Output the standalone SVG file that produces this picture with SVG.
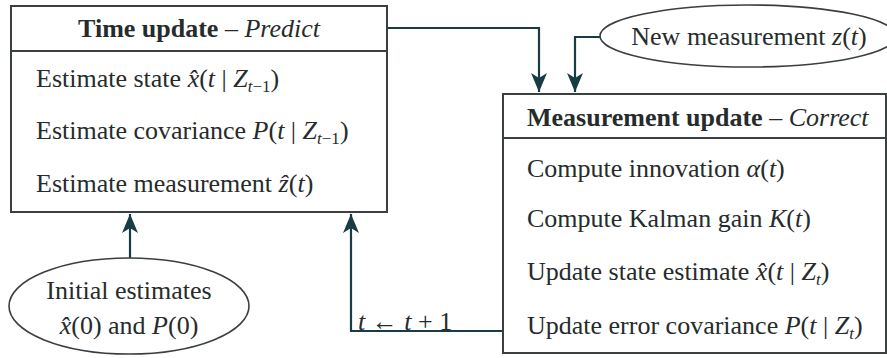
<svg xmlns="http://www.w3.org/2000/svg" width="887" height="358" viewBox="0 0 887 358">
<defs>
<style>
.box{fill:#fff;stroke:#3a3f40;stroke-width:2}
.sep{stroke:#3a3f40;stroke-width:2}
.ell{fill:#fff;stroke:#3a3f40;stroke-width:1.6}
.con{fill:none;stroke:#173c44;stroke-width:2.2}
.t{fill:#262b2c}
.b{font-weight:bold}
.i{font-style:italic}
</style>
<marker id="ah" markerUnits="userSpaceOnUse" markerWidth="22" markerHeight="18" refX="19" refY="8" orient="auto">
<path d="M0,0 L19,8 L0,16 L5,8 Z" fill="#173c44"/>
</marker>
</defs>
<rect width="887" height="358" fill="#fff"/>
<g id="connectors">
<path class="con" d="M387,28 H539 V92" marker-end="url(#ah)"/>
<path class="con" d="M601,37 H575 V92" marker-end="url(#ah)"/>
<path class="con" d="M130,258 V214" marker-end="url(#ah)"/>
<path class="con" d="M503,331 H351 V214" marker-end="url(#ah)"/>
<text class="t" x="358" y="330" font-family="Liberation Serif" font-size="26"><tspan class="i">t</tspan> ← <tspan class="i">t</tspan> + 1</text>
</g>
<g id="time-update">
<rect class="box" x="11" y="6" width="376" height="206"/>
<line class="sep" x1="11" y1="51" x2="387" y2="51"/>
<text class="t" x="199" y="37" text-anchor="middle" font-family="Liberation Serif" font-size="26"><tspan class="b">Time update</tspan> – <tspan class="i">Predict</tspan></text>
<text class="t" x="36" y="87" font-family="Liberation Serif" font-size="26">Estimate state <tspan class="i">x̂</tspan>(<tspan class="i">t</tspan> | <tspan class="i">Z</tspan><tspan class="i" font-size="17" dy="5">t</tspan><tspan font-size="17">−1</tspan><tspan dy="-5">)</tspan></text>
<text class="t" x="36" y="139" font-family="Liberation Serif" font-size="26">Estimate covariance <tspan class="i">P</tspan>(<tspan class="i">t</tspan> | <tspan class="i">Z</tspan><tspan class="i" font-size="17" dy="5">t</tspan><tspan font-size="17">−1</tspan><tspan dy="-5">)</tspan></text>
<text class="t" x="36" y="192" font-family="Liberation Serif" font-size="26">Estimate measurement <tspan class="i">ẑ</tspan>(<tspan class="i">t</tspan>)</text>
</g>
<g id="initial-estimates">
<ellipse class="ell" cx="129" cy="306" rx="120" ry="48"/>
<text class="t" x="129" y="299" text-anchor="middle" font-family="Liberation Serif" font-size="26">Initial estimates</text>
<text class="t" x="129" y="334" text-anchor="middle" font-family="Liberation Serif" font-size="26"><tspan class="i">x̂</tspan>(0) and <tspan class="i">P</tspan>(0)</text>
</g>
<g id="new-measurement">
<ellipse class="ell" cx="748" cy="36" rx="148" ry="31"/>
<text class="t" x="749" y="45" text-anchor="middle" font-family="Liberation Serif" font-size="26">New measurement <tspan class="i">z</tspan>(<tspan class="i">t</tspan>)</text>
</g>
<g id="measurement-update">
<rect class="box" x="503" y="94" width="383" height="259"/>
<line class="sep" x1="503" y1="138" x2="886" y2="138"/>
<text class="t" x="527" y="126" font-family="Liberation Serif" font-size="26"><tspan class="b">Measurement update</tspan> – <tspan class="i">Correct</tspan></text>
<text class="t" x="527" y="177" font-family="Liberation Serif" font-size="26">Compute innovation <tspan class="i">α</tspan>(<tspan class="i">t</tspan>)</text>
<text class="t" x="527" y="227" font-family="Liberation Serif" font-size="26">Compute Kalman gain <tspan class="i">K</tspan>(<tspan class="i">t</tspan>)</text>
<text class="t" x="527" y="280" font-family="Liberation Serif" font-size="26">Update state estimate <tspan class="i">x̂</tspan>(<tspan class="i">t</tspan> | <tspan class="i">Z</tspan><tspan class="i" font-size="17" dy="5">t</tspan><tspan dy="-5">)</tspan></text>
<text class="t" x="527" y="334" font-family="Liberation Serif" font-size="26">Update error covariance <tspan class="i">P</tspan>(<tspan class="i">t</tspan> | <tspan class="i">Z</tspan><tspan class="i" font-size="17" dy="5">t</tspan><tspan dy="-5">)</tspan></text>
</g>
</svg>
